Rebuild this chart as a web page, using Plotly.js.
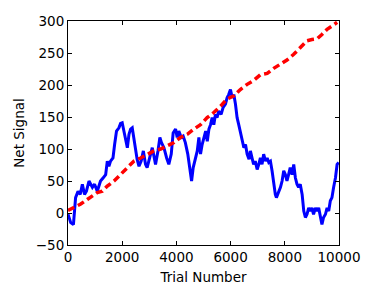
<!DOCTYPE html>
<html>
<head>
<meta charset="utf-8">
<script src="https://cdn.plot.ly/plotly-3.0.1.min.js"></script>
<style>html,body{margin:0;padding:0;background:#fff;}#chart{width:375px;height:300px;}</style>
</head>
<body>
<div id="chart"></div>
<script>
var blueTrial = [0,100,200,280,370,450,530,610,680,775,900,980,1080,1200,1300,1390,1450,1510,1570,1660,1720,1790,1880,1940,2000,2060,2125,2190,2250,2310,2370,2430,2490,2550,2620,2700,2780,2860,2920,3020,3110,3170,3230,3320,3390,3450,3540,3640,3720,3810,3880,3970,4030,4090,4180,4250,4330,4420,4500,4560,4620,4680,4770,4830,4890,4950,5010,5080,5140,5200,5260,5320,5380,5440,5500,5560,5650,5725,5810,5870,5930,5995,6060,6120,6180,6240,6300,6360,6420,6490,6550,6610,6680,6730,6790,6850,6910,6980,7040,7100,7160,7220,7290,7350,7410,7470,7530,7590,7650,7690,7780,7840,7900,7960,8020,8080,8140,8200,8270,8330,8390,8450,8510,8570,8640,8700,8760,8820,8880,8940,9000,9060,9130,9190,9250,9310,9370,9430,9500,9560,9620,9680,9740,9800,9870,9930,9990];
var blueSignal = [-2,-15,-18,24,34,29,45,29,34,50,40,45,34,50,55,60,81,73,81,86,107,128,133,140,141,128,118,102,123,131,133,118,97,84,73,81,97,76,71,86,102,89,76,97,118,110,102,86,76,92,125,131,118,128,118,120,110,92,66,50,71,81,97,118,92,107,118,128,112,131,138,149,138,154,149,159,154,165,170,180,185,193,180,185,170,149,138,128,118,102,107,92,84,97,86,76,81,68,76,86,76,92,81,86,79,81,66,45,29,24,34,40,50,66,60,50,60,71,60,76,55,45,40,45,29,3,-7,-2,8,3,8,-2,8,3,8,-7,-18,-7,-2,8,3,19,24,40,55,76,79];
var redTrial = [0,220,470,710,900,1080,1265,1450,1700,1940,2190,2430,2680,2920,3170,3420,3660,3910,4150,4400,4640,4890,5135,5380,5630,5870,6120,6360,6610,6850,7100,7350,7590,7840,8080,8330,8575,8820,9000,9190,9370,9560,9740,9930];
var redSignal = [4,8,14,21,27,32,34,42,50,60,71,81,86,92,97,100,105,110,118,123,131,138,149,157,167,178,183,193,201,207,216,218,226,232,239,248,258,269,271,272,279,287,292,298];

var font = {family: 'DejaVu Sans', size: 13.5, color: '#000'};
var titleFont = {family: 'DejaVu Sans', size: 13.5, color: '#000'};
var axisCommon = {
  showgrid: false, zeroline: false, showline: true, linecolor: '#000', linewidth: 1,
  mirror: 'ticks', ticks: 'inside', ticklen: 4, tickcolor: '#000', tickwidth: 1,
  tickfont: font, tickformat: 'd', separatethousands: false
};
var data = [
  {x: blueTrial, y: blueSignal, type: 'scatter', mode: 'lines',
   line: {color: '#0000ff', width: 3}, hoverinfo: 'skip'},
  {x: redTrial, y: redSignal, type: 'scatter', mode: 'lines',
   line: {color: '#ff0000', width: 3.5, dash: '7px,4px'}, hoverinfo: 'skip'}
];
var layout = {
  width: 375, height: 300,
  margin: {l: 68, r: 36, t: 21, b: 55},
  paper_bgcolor: '#fff', plot_bgcolor: '#fff',
  showlegend: false,
  font: font,
  xaxis: Object.assign({}, axisCommon, {range: [0, 10000], dtick: 2000, tick0: 0,
    title: {text: 'Trial Number', font: titleFont, standoff: 8}}),
  yaxis: Object.assign({}, axisCommon, {range: [-50, 300], dtick: 50, tick0: 0,
    title: {text: 'Net Signal', font: titleFont, standoff: 8}})
};
Plotly.newPlot('chart', data, layout, {staticPlot: true, displayModeBar: false});
</script>
</body>
</html>
